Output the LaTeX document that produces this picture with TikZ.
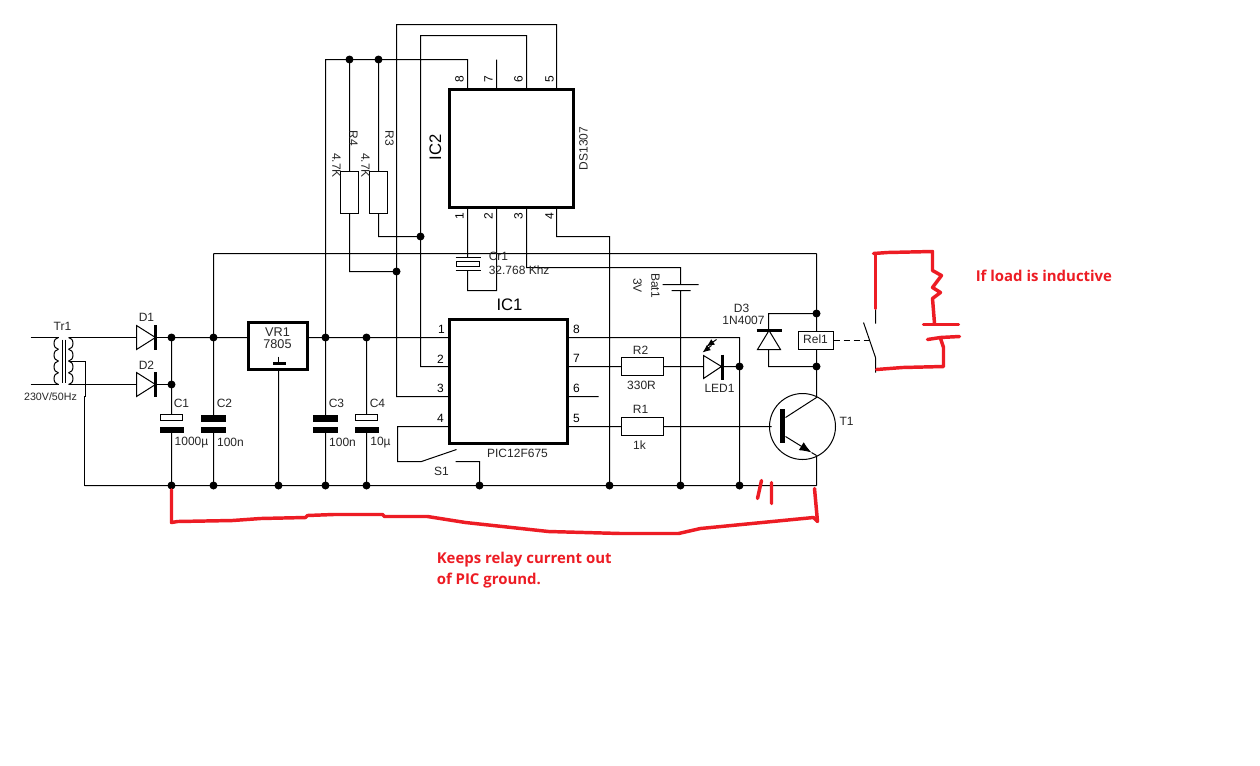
\documentclass[tikz,border=0pt]{standalone}
\usepackage{fontspec}
\setmainfont{Liberation Sans}
\newfontfamily\notefont{Open Sans}
\usetikzlibrary{arrows.meta}
\definecolor{paintred}{HTML}{ED1C24}
\tikzset{
  x=0.75pt,y=-0.75pt,
  wire/.style={line width=0.75pt,line cap=butt,line join=miter},
  dotj/.style={circle,fill=black,inner sep=0pt,minimum size=6pt},
  chip/.style={draw,line width=1.6pt,inner sep=0pt,fill=white},
  res/.style={draw,line width=0.75pt,inner sep=0pt,fill=white},
  plate/.style={fill=black,draw=none},
  lab/.style={font=\fontsize{9}{10}\selectfont,inner sep=0pt,text=black!85},
  pinlab/.style={font=\fontsize{9}{10}\selectfont,inner sep=0pt},
  biglab/.style={font=\fontsize{12.5}{14}\selectfont,inner sep=0pt},
  redline/.style={draw=paintred,line width=2.6pt,line join=round,line cap=round},
  note/.style={font=\notefont\bfseries\fontsize{11.2}{15.8}\selectfont,text=paintred,inner sep=0pt,align=left},
}
\begin{document}
\begin{tikzpicture}
\useasboundingbox (-0.5,-0.5) rectangle (1259.5,764.5);
\fill[white] (-0.5,-0.5) rectangle (1259.5,764.5);

% named points
\foreach \n/\x/\y in {
 gl/84/485,gr/816/485,pa/449/337,pb/449/366,pc/449/396,pd/449/426,
 pe/567/337,pf/567/366,pg/567/396,ph/567/426,ne/598/396,
 ua/467/89,ub/496/89,uc/526/89,ud/556/89,va/467/207,vb/496/207,vc/526/207,vd/556/207,
 sev/496/59,tl/325/59,rl/213/253,rr/816/253,
 ka/421/461,kb/456/449,kc/455/461,kd/479/461,ke/397/461,kf/397/426,
 xa/467/257,xb/467/270,xc/467/290,xd/496/290,
 ba/680/284,bb/680/290,bc/680/267,bd/526/267,
 tc/816/397,te/816/455,vin/248/337,vout/307/337,vgnd/278/369}
 {\coordinate (\n) at (\x,\y);}

% wires under everything
\draw[wire]
  (gl) -- (gr)
  (rl) -- (rr) (rl) -- (213,485)
  (171,337) -- (vin)
  (171,337) -- (171,485)
  (vgnd) -- (278,485)
  (vout) -- (pa)
  (325,337) -- (325,485) (366,337) -- (366,485)
  (325,337) -- (tl) -- (467,59) -- (ua) (349,59) -- (349,271) -- (396,271)
  (378,59) -- (378,236) -- (420,236)
  (pb) -- (420,366) -- (420,35) -- (526,35) -- (uc)
  (pc) -- (396,396) -- (396,24) -- (556,24) -- (ud)
  (ub) -- (sev)
  (pd) -- (kf) -- (ke) -- (ka) -- (kb) (kc) -- (kd) -- (479,485)
  (va) -- (xa) (xb) -- (xc) -- (xd) -- (vb)
  (vc) -- (bd) -- (bc) -- (ba) (bb) -- (680,485)
  (vd) -- (556,236) -- (609,236) -- (609,485)
  (pe) -- (739,337) -- (739,485)
  (pf) -- (739,366)
  (pg) -- (ne)
  (ph) -- (771,426)
  (rr) -- (tc)
  (816,313) -- (768,313) -- (768,366) -- (816,366)
  (tc) -- (785,417) (te) -- (gr)
  (662,284) -- (698,284) (671,290) -- (690,290);
\draw[wire,dash pattern=on 4.5pt off 3pt] (833,340) -- (868,340);

% junctions
\foreach \n/\x/\y in {
 ja/171/337,jb/171/384,jc/213/337,jd/325/337,je/366/337,
 ga/171/485,gb/213/485,gc/278/485,gd/325/485,ge/366/485,gf/479/485,gg/609/485,gh/680/485,gi/739/485,
 ta/349/59,tb/378/59,jf/420/236,jg/396/271,jh/739/366,ji/816/313,jj/816/366}
 {\node[dotj] (\n) at (\x,\y) {};}

% chips and boxes
\node[chip,minimum width=88.5pt,minimum height=93pt] (IC1) at (508,381) {};
\node[chip,minimum width=93pt,minimum height=88.5pt] (IC2) at (511,148) {};
\node[chip,minimum width=44.25pt,minimum height=35.25pt] (VR1) at (277.5,345.5) {};
\node[res,minimum width=31.5pt,minimum height=13.5pt] (R1) at (642,426) {};
\node[res,minimum width=31.5pt,minimum height=13.5pt] (R2) at (642,366) {};
\node[res,minimum width=13.5pt,minimum height=31.5pt] (R3) at (378,192) {};
\node[res,minimum width=13.5pt,minimum height=31.5pt] (R4) at (349,192) {};
\node[res,minimum width=26.25pt,minimum height=13.5pt] (Rel1) at (815.5,340) {};
\node[draw,circle,line width=0.75pt,inner sep=0pt,minimum size=49.5pt] (T1) at (802,426) {};

% transistor
\fill (779.5,408) rectangle (784.5,442);
\draw[wire,-{Latex[length=9pt,width=7pt]}] (785,436) -- (811,452);
\draw[wire] (811,452) -- (te);

% capacitors
\foreach \x in {213,325}{
  \fill[plate] (\x-12.5,414) rectangle (\x+12.5,421);
  \fill[plate] (\x-12.5,426) rectangle (\x+12.5,432);
}
\foreach \x in {171,366}{
  \fill[white] (\x-1,420) rectangle (\x+1,426);
  \draw[wire,fill=white] (\x-11,414) rectangle (\x+11,420);
  \fill[plate] (\x-12,426) rectangle (\x+12,432);
}
\fill[white] (212,421) rectangle (214,426);
\fill[white] (324,421) rectangle (326,426);
% crystal
\fill[white] (466,257) rectangle (468,270);
\draw[wire] (455,257) -- (480,257) (455,270) -- (480,270);
\draw[wire,fill=white] (456,261) rectangle (479,266);

% VR1 ground mark
\fill (272,361) rectangle (285,364);
\draw[wire] (278,356) -- (278,362);

% diodes
\foreach \y in {337,384}{
  \draw[wire,fill=white] (136,\y-12) -- (155,\y) -- (136,\y+12) -- cycle;
  \draw[line width=2pt] (155,\y-12.5) -- (155,\y+12.5);
  \draw[wire] (68,\y) -- (136,\y) (155,\y) -- (171,\y);
}
\draw[wire,fill=white] (757,349) -- (768.5,330) -- (780,349) -- cycle;
\draw[line width=2pt] (756,330) -- (781,330);
% LED
\draw[wire,fill=white] (703,355) -- (721,366) -- (703,378) -- cycle;
\draw[line width=2pt] (722,354) -- (722,379);
\draw[wire,-{Latex[length=6pt,width=5pt]}] (716,339) -- (706,346);
\draw[wire,-{Latex[length=6pt,width=5pt]}] (711,345) -- (702,352);

% transformer
\draw[wire] (30,337) -- (58,337) (30,384) -- (58,384);
\draw[wire] (62,339) -- (62,382) (65,339) -- (65,382);
\foreach \yy in {337,348.75,360.5,372.25}{
  \draw[wire] (58,\yy) arc[start angle=90,end angle=270,x radius=4.5,y radius=-5.875];
  \draw[wire] (68,\yy) arc[start angle=90,end angle=-90,x radius=4.5,y radius=-5.875];
}
\draw[wire] (68,361) -- (85,361) -- (85,396) -- (84,396) -- (gl);

% switch on load side
\draw[wire] (863,322) -- (875,357) (875,308) -- (875,323) (875,357) -- (875,372);

% red additions
\draw[redline] (ga) -- (171,522) -- (177,521) -- (232,520) -- (260,518) -- (305,517) -- (307,515) -- (333,514) -- (382,514) -- (384,516) -- (427,516) -- (465,522) -- (548,531) -- (620,533) -- (678,533) -- (700,528) -- (813,517) -- (817,521) -- (814,488);
\draw[redline] (761,480) -- (757,498) (771,482) -- (771,503);
\draw[redline] (873,253) -- (887,252) -- (932,251) -- (932,270) -- (941,275) -- (932,287) -- (940,292) -- (932,298) -- (934,323);
\draw[redline] (875,253) -- (875,308);
\draw[redline] (923,324) -- (958,324);
\draw[redline] (927,339) -- (940,337) -- (959,336) (940,338) -- (943,347) -- (943,366) -- (902,367) -- (876,369);

% labels
\node[lab] (tTr) at (62,326) {Tr1};
\node[lab,font=\fontsize{8}{9}\selectfont] (tTrv) at (50,396) {230V/50Hz};
\node[lab] (tD1) at (146,317) {D1};
\node[lab] (tD2) at (146,365) {D2};
\node[lab] (tC1) at (181,403) {C1};
\node[lab] (tC1v) at (191,442) {1000µ};
\node[lab] (tC2) at (224,403) {C2};
\node[lab] (tC2v) at (230,442) {100n};
\node[lab,align=center,font=\fontsize{9.5}{9}\selectfont] (tVR) at (277,338) {VR1\\7805};
\node[lab] (tC3) at (336,403) {C3};
\node[lab] (tC3v) at (342,442) {100n};
\node[lab] (tC4) at (377,403) {C4};
\node[lab] (tC4v) at (380,442) {10µ};
\node[biglab] (tIC1) at (509,304) {IC1};
\node[lab] (tPIC) at (517,453) {PIC12F675};
\node[lab] (tS1) at (441,471) {S1};
\foreach \n/\t/\x/\y in {a/1/441/329,b/2/440/359,c/3/440/388,d/4/440/418,e/8/576/329,f/7/576/358,g/6/576/388,h/5/576/418}
  {\node[pinlab] (pl\n) at (\x,\y) {\t};}
\foreach \n/\t/\x/\y in {a/8/459/79,b/7/488/79,c/6/518/79,d/5/549/79,e/1/459/216,f/2/488/216,g/3/518/216,h/4/549/216}
  {\node[pinlab,rotate=90] (ql\n) at (\x,\y) {\t};}
\node[biglab,rotate=90] (tIC2) at (435,147) {IC2};
\node[lab,rotate=90] (tDS) at (583,148) {DS1307};
\node[lab,rotate=-90] (tR4) at (353,138) {R4};
\node[lab,rotate=-90] (tR3) at (389,138) {R3};
\node[lab,rotate=-90] (tR4v) at (336,165) {4.7K};
\node[lab,rotate=-90] (tR3v) at (365,165) {4.7K};
\node[lab,anchor=west] (tCr) at (488,256) {Cr1};
\node[lab,anchor=west] (tCrv) at (488,270) {32.768 Khz};
\node[lab,rotate=-90] (tBat) at (655,285) {Bat1};
\node[lab,rotate=-90] (tBv) at (637,285) {3V};
\node[lab] (tD3) at (741,308) {D3};
\node[lab] (tD3v) at (743,320) {1N4007};
\node[lab] (tRel) at (815,339) {Rel1};
\node[lab] (tR2) at (640,350) {R2};
\node[lab] (tR2v) at (641,385) {330R};
\node[lab] (tLED) at (719,388) {LED1};
\node[lab] (tR1) at (640,409) {R1};
\node[lab] (tR1v) at (639,445) {1k};
\node[lab] (tT1) at (846,421) {T1};
\node[note,anchor=west] (nA) at (975,275) {If load is inductive};
\node[note,anchor=north west] (nB) at (436,551) {Keeps relay current out\\of PIC ground.};
\end{tikzpicture}
\end{document}
